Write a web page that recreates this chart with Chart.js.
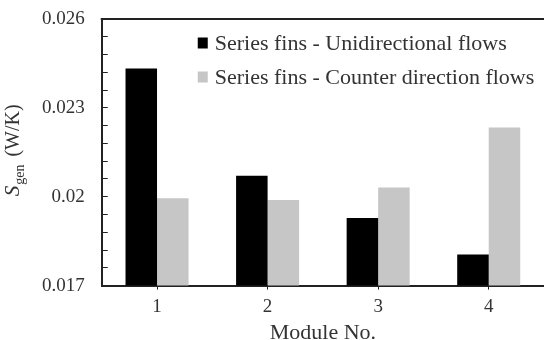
<!DOCTYPE html>
<html>
<head>
<meta charset="utf-8">
<script src="https://cdn.jsdelivr.net/npm/chart.js@4"></script>
<style>
    html, body { margin: 0; padding: 0; background: #fff; overflow: hidden; }
</style>
</head>
<body>
<canvas id="sgenChart" width="544" height="340"></canvas>
<script>
// data
const modules = ['1', '2', '3', '4'];
const unidirectional = [0.02433, 0.02071, 0.01928, 0.01805];
const counterDirection = [0.01995, 0.01989, 0.02031, 0.02234];
const seriesLabels = ['Series fins - Unidirectional flows', 'Series fins - Counter direction flows'];
const yMin = 0.017, yMax = 0.026, yMajorStep = 0.003, yMinorStep = 0.0006;

const serif = '"Liberation Serif", "Times New Roman", serif';
const textColor = '#333';
const axisColor = '#222';

// minor tick values, labels only on the majors
let yTicks = [];
for (let i = 0; i <= Math.round((yMax - yMin) / yMinorStep); i++) {
    yTicks.push(+(yMin + i * yMinorStep).toFixed(4));
}

// S_gen (W/K) title with subscript
const yTitlePlugin = {
    id: 'yTitle',
    afterDraw(chart) {
        let ctx = chart.ctx, area = chart.chartArea;
        ctx.save();
        ctx.fillStyle = textColor;
        ctx.textBaseline = 'alphabetic';
        ctx.font = 'italic 21px ' + serif;
        let wS = ctx.measureText('S').width;
        ctx.font = '14px ' + serif;
        let wSub = ctx.measureText('gen').width;
        ctx.font = '20px ' + serif;
        let wUnit = ctx.measureText('(W/K)').width;
        let gap = 8;
        let total = wS + 1 + wSub + gap + wUnit;
        let cy = (area.top + area.bottom) / 2 - 2;
        ctx.translate(19, cy + total / 2);
        ctx.rotate(-Math.PI / 2);
        ctx.font = 'italic 21px ' + serif;
        ctx.fillText('S', 0, 0);
        ctx.font = '14px ' + serif;
        ctx.fillText('gen', wS + 1, 5);
        ctx.font = '20px ' + serif;
        ctx.fillText('(W/K)', wS + 1 + wSub + gap, 0);
        ctx.restore();
    }
};

// top edge of the frame + legend inside the plot
const framePlugin = {
    id: 'frameLegend',
    afterDraw(chart) {
        let ctx = chart.ctx, area = chart.chartArea;
        ctx.save();
        ctx.strokeStyle = axisColor;
        ctx.lineWidth = 2;
        ctx.beginPath();
        ctx.moveTo(area.left - 1, area.top);
        ctx.lineTo(area.right, area.top);
        ctx.stroke();

        ctx.font = '22px ' + serif;
        ctx.textBaseline = 'middle';
        chart.data.datasets.forEach(function (ds, i) {
            let x = area.left + 96;
            let y = area.top + 24 + i * 34;
            ctx.fillStyle = ds.backgroundColor;
            ctx.fillRect(x, y - 5.5, 10, 11);
            ctx.fillStyle = textColor;
            ctx.fillText(ds.label, x + 17, y + 1);
        });
        ctx.restore();
    }
};

let ctx = document.getElementById('sgenChart').getContext('2d');
let chart = new Chart(ctx, {
    type: 'bar',
    data: {
        labels: modules,
        datasets: [{
            label: seriesLabels[0],
            data: unidirectional,
            backgroundColor: '#000000',
            categoryPercentage: 0.57,
            barPercentage: 1
        }, {
            label: seriesLabels[1],
            data: counterDirection,
            backgroundColor: '#c6c6c6',
            categoryPercentage: 0.57,
            barPercentage: 1
        }]
    },
    options: {
        responsive: false,
        animation: false,
        devicePixelRatio: 1,
        layout: {padding: {left: 19, top: 19, right: 0, bottom: 0}},
        plugins: {
            legend: {display: false},
            tooltip: {enabled: false}
        },
        scales: {
            x: {
                grid: {
                    drawOnChartArea: false,
                    offset: false,
                    tickLength: 4,
                    color: axisColor
                },
                border: {color: axisColor, width: 2},
                ticks: {
                    color: textColor,
                    padding: 6,
                    font: {family: serif, size: 19, lineHeight: 1.2}
                },
                title: {
                    display: true,
                    text: 'Module No.',
                    color: textColor,
                    padding: {top: 0, bottom: -2},
                    font: {family: serif, size: 22, lineHeight: 0.8}
                }
            },
            y: {
                min: yMin,
                max: yMax,
                afterBuildTicks: function (axis) {
                    axis.ticks = yTicks.map(function (v) { return {value: v}; });
                },
                afterFit: function (axis) {
                    axis.paddingTop = 0;
                    axis.paddingBottom = 0;
                },
                grid: {
                    drawOnChartArea: false,
                    tickLength: -6,
                    color: axisColor
                },
                border: {color: axisColor, width: 2},
                ticks: {
                    autoSkip: false,
                    color: textColor,
                    padding: 23,
                    font: {family: serif, size: 19},
                    callback: function (v) {
                        let k = Math.round((v - yMin) / yMinorStep);
                        if (k % Math.round(yMajorStep / yMinorStep) !== 0) return '';
                        return String(+v.toFixed(3));
                    }
                }
            }
        }
    },
    plugins: [yTitlePlugin, framePlugin]
});
</script>
</body>
</html>
